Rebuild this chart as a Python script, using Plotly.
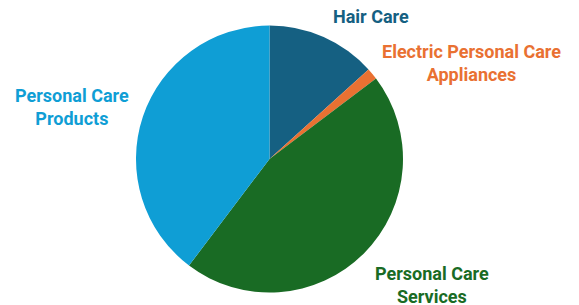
import plotly.graph_objects as go

labels = ["Hair Care", "Electric Personal Care Appliances", "Personal Care Services", "Personal Care Products"]
display_labels = ["Hair Care", "Electric Personal Care<br>Appliances", "Personal Care<br>Services", "Personal Care<br>Products"]
values = [13.3, 1.4, 45.6, 39.7]
colors = ["#156082", "#E97132", "#196B24", "#0F9ED5"]

# page has an 8px default body margin; size the figure to fit the window
OFF = 8
W, H = 579 - OFF, 305 - OFF

def px_x(x):
    return (x - OFF) / W

def px_y(y):
    return 1 - (y - OFF) / H

fig = go.Figure(go.Pie(
    labels=labels, values=values, sort=False, direction="clockwise", rotation=0,
    marker=dict(colors=colors, line=dict(width=0)),
    textinfo="none", hoverinfo="label+percent", showlegend=False,
    domain=dict(x=[px_x(136), px_x(403)], y=[px_y(292.5), px_y(25.5)]),
))

# label centres (window pixels, top-left origin)
label_pos = [(371, 17), (471, 63), (432, 285), (72, 107)]
for txt, c, (px, py) in zip(display_labels, colors, label_pos):
    fig.add_annotation(
        x=px_x(px), y=px_y(py), xref="paper", yref="paper",
        text=f"<b>{txt}</b>", showarrow=False, xanchor="center", yanchor="middle",
        font=dict(family="Roboto", size=18, color=c), align="center",
    )

fig.update_layout(
    width=W, height=H, margin=dict(l=0, r=0, t=0, b=0),
    paper_bgcolor="white", plot_bgcolor="white",
)
fig.write_html("out.html")
